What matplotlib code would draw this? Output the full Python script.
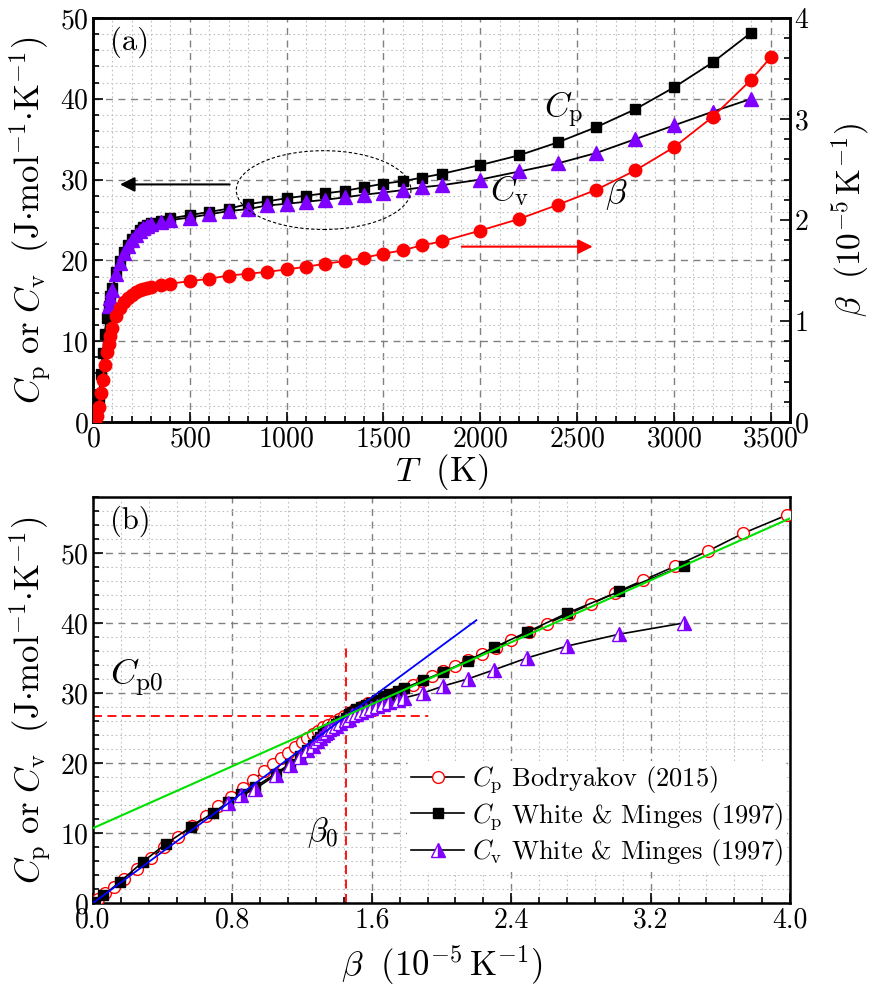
import numpy as np
import matplotlib
matplotlib.use('Agg')
import matplotlib.pyplot as plt
from matplotlib.ticker import MultipleLocator, FormatStrFormatter
from matplotlib.patches import Ellipse

plt.rcParams['font.family'] = 'serif'
plt.rcParams['font.serif'] = ['cmr10', 'DejaVu Serif']
plt.rcParams['mathtext.fontset'] = 'cm'
plt.rcParams['axes.formatter.use_mathtext'] = True
plt.rcParams['axes.unicode_minus'] = False

# White & Minges (1997): temperature (K), Cp, Cv (J/mol/K), beta (1e-5 /K)
T_K = [10, 20, 30, 40, 50, 60, 70, 80, 90, 100, 120, 140, 160, 180, 200, 220, 240,
       260, 280, 300, 350, 400, 500, 600, 700, 800, 900, 1000, 1100, 1200, 1300,
       1400, 1500, 1600, 1700, 1800, 2000, 2200, 2400, 2600, 2800, 3000, 3200,
       3400, 3500]
cp_wm = [0.2, 1.1, 3.0, 5.9, 8.5, 10.9, 12.9, 14.4, 15.6, 16.6, 18.5, 19.9, 21.0,
         21.9, 22.6, 23.2, 23.7, 24.1, 24.4, 24.6, 24.9, 25.2, 25.6, 26.0, 26.4,
         26.97, 27.3, 27.7, 28.0, 28.3, 28.6, 29.05, 29.5, 29.8, 30.25, 30.7,
         31.8, 33.0, 34.6, 36.5, 38.7, 41.4, 44.5, 48.2, np.nan]
cv_wm = [np.nan] * 7 + [14.3, 15.4, 16.3, 18.3, 19.7, 20.9, 21.8, 22.5, 23.1, 23.6,
         24.0, 24.3, 24.5, 24.8, 25.0, 25.3, 25.7, 26.1, 26.35, 26.8, 27.0, 27.26,
         27.5, 27.8, 28.13, 28.4, 28.7, 29.05, 29.3, 30.0, 31.0, 32.0, 33.3, 35.0,
         36.7, 38.4, 40.0, np.nan]
beta_wm = [0.01, 0.06, 0.153, 0.287, 0.42, 0.565, 0.689, 0.775, 0.852, 0.93, 1.05,
           1.13, 1.19, 1.23, 1.26, 1.285, 1.305, 1.32, 1.33, 1.34, 1.355, 1.37,
           1.394, 1.418, 1.45, 1.467, 1.487, 1.51, 1.537, 1.567, 1.593, 1.627,
           1.666, 1.70, 1.75, 1.787, 1.895, 2.01, 2.15, 2.30, 2.49, 2.72, 3.02,
           3.39, 3.61]

# Bodryakov (2015): Cp vs beta
beta_bod = [0.03, 0.07, 0.12, 0.18, 0.25, 0.33, 0.41, 0.49, 0.57, 0.65, 0.72, 0.79,
            0.86, 0.92, 0.98, 1.03, 1.08, 1.12, 1.16, 1.20, 1.23, 1.26, 1.29, 1.32,
            1.35, 1.38, 1.41, 1.44, 1.47, 1.50, 1.54, 1.58, 1.62, 1.67, 1.72, 1.78,
            1.835, 1.89, 1.948, 2.01, 2.076, 2.15, 2.23, 2.31, 2.398, 2.50, 2.606,
            2.73, 2.857, 2.995, 3.157, 3.34, 3.53, 3.73, 3.98]
cp_bod = [0.6, 1.4, 2.3, 3.5, 4.8, 6.4, 8.0, 9.5, 11.0, 12.5, 13.9, 15.2, 16.5, 17.6,
          18.8, 19.8, 20.7, 21.5, 22.3, 23.0, 23.6, 24.1, 24.6, 25.1, 25.5, 25.9,
          26.3, 26.7, 27.1, 27.5, 28.0, 28.5, 28.9, 29.4, 29.9, 30.5, 31.1, 31.7,
          32.4, 33.1, 33.9, 34.7, 35.5, 36.4, 37.5, 38.7, 39.9, 41.3, 42.7, 44.3,
          46.1, 48.1, 50.3, 52.8, 55.4]

# linear fits and crossing point
blue_beta = [0.0, 2.2]
blue_cp = [0.0, 40.4]
green_beta = [0.0, 4.0]
green_cp = [10.7, 54.95]
beta0 = 1.45
cp0 = 26.7

T_K = np.array(T_K, float)
cp_wm = np.array(cp_wm)
cv_wm = np.array(cv_wm)
beta_wm = np.array(beta_wm)

purple = '#8000ff'
red = '#ff0000'
ylab = r'$C_\mathrm{p}\ \mathrm{or}\ C_\mathrm{v}\ \ (\mathrm{J{\cdot}mol^{-1}{\cdot}K^{-1}})$'
blab = r'$\beta\ \ (10^{-5}\,\mathrm{K}^{-1})$'

fig = plt.figure(figsize=(8.76, 9.88), dpi=100)
ax1 = fig.add_axes([0.1062, 0.5729, 0.7957, 0.4089])
ax1r = ax1.twinx()
ax2 = fig.add_axes([0.1062, 0.086, 0.7957, 0.411])


def style(ax):
    ax.grid(which='major', ls=(0, (5, 4)), color='#808080', lw=1.0)
    ax.grid(which='minor', ls=(0, (1.5, 2.5)), color='#c0c0c0', lw=0.8)
    ax.set_axisbelow(True)
    for s in ax.spines.values():
        s.set_linewidth(1.8)
    ax.tick_params(which='both', direction='in', top=False, right=False,
                   labelsize=20, width=1.2, pad=3)
    ax.tick_params(which='major', length=7)
    ax.tick_params(which='minor', length=4)


# ---- panel (a)
style(ax1)
ax1.set_xlim(0, 3600)
ax1.set_ylim(0, 50)
ax1.xaxis.set_major_locator(MultipleLocator(500))
ax1.xaxis.set_minor_locator(MultipleLocator(100))
ax1.yaxis.set_major_locator(MultipleLocator(10))
ax1.yaxis.set_minor_locator(MultipleLocator(2))

m = ~np.isnan(cp_wm)
ax1.plot(T_K[m], cp_wm[m], '-s', color='k', ms=7, lw=1.3, zorder=3)
m = ~np.isnan(cv_wm)
ax1.plot(T_K[m], cv_wm[m], '-^', color='k', mfc=purple, mec=purple, ms=10, lw=1.3, zorder=4)

ax1r.set_ylim(0, 4)
ax1r.yaxis.set_major_locator(MultipleLocator(1))
ax1r.yaxis.set_minor_locator(MultipleLocator(0.2))
ax1r.tick_params(which='both', direction='in', labelsize=20, width=1.2, pad=3)
ax1r.tick_params(which='major', length=7)
ax1r.tick_params(which='minor', length=4)
for s in ax1r.spines.values():
    s.set_linewidth(1.8)
ax1r.plot(T_K, beta_wm, '-o', color=red, ms=9, lw=1.3, zorder=5)

ax1.annotate('', xy=(125, 29.4), xytext=(720, 29.4),
             arrowprops=dict(arrowstyle='-|>', color='k', lw=1.5, mutation_scale=22))
ax1.annotate('', xy=(2595, 21.7), xytext=(1890, 21.7),
             arrowprops=dict(arrowstyle='-|>', color=red, lw=1.5, mutation_scale=22))
ax1.add_patch(Ellipse((1191, 28.7), 902, 9.75, fill=False, ls=(0, (3, 2)),
                      lw=0.8, ec='k', zorder=6))
ax1.text(2433, 38.6, r'$C_\mathrm{p}$', fontsize=25, ha='center', va='center')
ax1.text(2149, 28.7, r'$C_\mathrm{v}$', fontsize=25, ha='center', va='center')
ax1.text(2700, 28.1, r'$\beta$', fontsize=25, ha='center', va='center')
ax1.text(0.025, 0.94, '(a)', transform=ax1.transAxes, fontsize=22, va='center')

ax1.set_xlabel(r'$T\ \ (\mathrm{K})$', fontsize=25, labelpad=0)
ax1.set_ylabel(ylab, fontsize=25)
ax1.yaxis.set_label_coords(-0.058, 0.5)
ax1r.set_ylabel(blab, fontsize=24)
ax1r.yaxis.set_label_coords(1.056, 0.5)

# ---- panel (b)
style(ax2)
ax2.set_xlim(0, 4.0)
ax2.set_ylim(0, 58)
ax2.xaxis.set_major_locator(MultipleLocator(0.8))
ax2.xaxis.set_minor_locator(MultipleLocator(0.16))
ax2.xaxis.set_major_formatter(FormatStrFormatter('%.1f'))
ax2.yaxis.set_major_locator(MultipleLocator(10))
ax2.yaxis.set_minor_locator(MultipleLocator(2))

ax2.plot([beta0, beta0], [0, 37.2], ls=(0, (5, 3)), color=red, lw=1.3, zorder=2)
ax2.plot([0, 1.92], [cp0, cp0], ls=(0, (5, 3)), color=red, lw=1.3, zorder=2)

ax2.plot(beta_bod, cp_bod, '-o', color='k', mfc='white', mec=red, ms=8.5, lw=1.2,
         zorder=3, label=r'$C_\mathrm{p}$ Bodryakov (2015)')
m = ~np.isnan(cp_wm)
ax2.plot(beta_wm[m], cp_wm[m], '-s', color='k', ms=7.5, lw=1.2, zorder=4,
         label=r'$C_\mathrm{p}$ White & Minges (1997)')
m = ~np.isnan(cv_wm)
ax2.plot(beta_wm[m], cv_wm[m], '-^', color='k', mfc=purple, mec=purple,
         fillstyle='right', markerfacecoloralt='white', ms=9.5, lw=1.2, zorder=5,
         label=r'$C_\mathrm{v}$ White & Minges (1997)')
ax2.plot(blue_beta, blue_cp, color='#0000ff', lw=1.3, zorder=6)
ax2.plot(green_beta, green_cp, color='#00e000', lw=1.5, zorder=6)

ax2.text(0.1, 32.2, r'$C_\mathrm{p0}$', fontsize=26, va='center')
ax2.text(1.316, 10.1, r'$\beta_0$', fontsize=24, ha='center', va='center')
ax2.text(0.025, 0.94, '(b)', transform=ax2.transAxes, fontsize=22, va='center')

leg = ax2.legend(loc='lower right', bbox_to_anchor=(1.0, 0.07), fontsize=19,
                 handlelength=2.0, frameon=True, facecolor='white',
                 edgecolor='none', framealpha=1, borderaxespad=0.1,
                 labelspacing=0.2, handletextpad=0.3, borderpad=0.15)
leg.set_zorder(10)

ax2.set_xlabel(blab, fontsize=25, labelpad=7)
ax2.set_ylabel(ylab, fontsize=25)
ax2.yaxis.set_label_coords(-0.058, 0.5)

fig.savefig('out.png', dpi=100)
